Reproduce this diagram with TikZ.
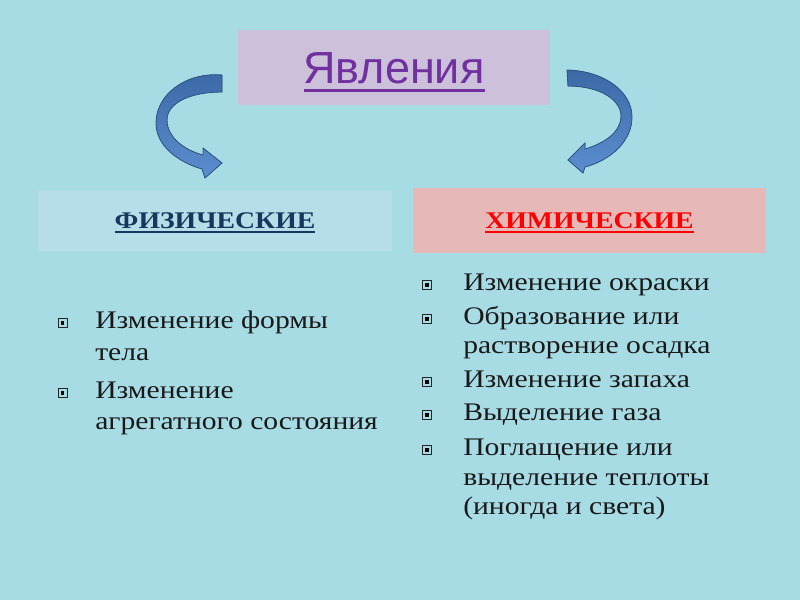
\documentclass[tikz,border=0pt]{standalone}
\usepackage{fontspec}
\usetikzlibrary{positioning}
\newfontfamily\titlefont{Liberation Sans}
\newfontfamily\headfont{Liberation Serif}[FakeStretch=1.16]
\newfontfamily\bodyfont{Liberation Serif}[FakeStretch=1.17]
\definecolor{bgwater}{HTML}{A7DCE5}
\definecolor{titlefill}{HTML}{CCC0DA}
\definecolor{titletext}{HTML}{7030A0}
\definecolor{physfill}{HTML}{B7DEE8}
\definecolor{phystext}{HTML}{17375E}
\definecolor{chemfill}{HTML}{E6B9B8}
\definecolor{chemtext}{HTML}{FF0000}
\definecolor{arrowtop}{HTML}{3C69A6}
\definecolor{arrowbot}{HTML}{5B8ECF}
\definecolor{arrowline}{HTML}{2F5585}
% thick underline: depth, thickness, text
\newcommand{\ulthick}[3]{\setbox0\hbox{#3}\rlap{\rule[-#1]{\wd0}{#2}}\box0}

\begin{document}
\begin{tikzpicture}[x=0.025cm, y=-0.025cm,
  box/.style={rectangle, fill=#1, inner sep=0pt},
  item/.style={anchor=base west, inner sep=0pt, text=black!90,
    font=\bodyfont\fontsize{18}{20}\selectfont},
  bul/.style={rectangle, draw=black!85, line width=0.5pt, minimum size=6.5pt, inner sep=0pt,
    path picture={\fill[black] ([shift={(-1.4pt,-1.4pt)}]path picture bounding box.center)
      rectangle ([shift={(1.4pt,1.4pt)}]path picture bounding box.center);}},
  arr/.style={top color=arrowtop, bottom color=arrowbot, draw=arrowline, line width=0.6pt}
]
  \fill[bgwater] (0,0) rectangle (800,600);
  \useasboundingbox (0,0) rectangle (800,600);

  \node[box=titlefill, minimum width=7.8cm, minimum height=1.85cm, text=titletext,
    font=\titlefont\fontsize{32}{36}\selectfont, text height=22.9pt, text depth=0pt]
    (title) at (394,67.5) {\ulthick{6pt}{2.2pt}{Явления}};

  \node[box=physfill, minimum width=8.85cm, minimum height=1.5cm, text=phystext,
    font=\headfont\bfseries\fontsize{17}{20}\selectfont, text height=11.3pt, text depth=0pt]
    (phys) at (215,220.5) {\ulthick{3.3pt}{1.5pt}{ФИЗИЧЕСКИЕ}};
  \node[box=chemfill, minimum width=8.83cm, minimum height=1.6cm, text=chemtext,
    font=\headfont\bfseries\fontsize{17}{20}\selectfont, text height=11.3pt, text depth=0pt]
    (chem) at (589.5,220.5) {\ulthick{3.3pt}{1.5pt}{ХИМИЧЕСКИЕ}};

  % curved arrows
  \filldraw[arr] (222,75) .. controls (185,72) and (156,95) .. (156,123)
    .. controls (156,146) and (178,162) .. (202,169) -- (205,178) -- (222,163) -- (203,148)
    -- (203,155) .. controls (184,150) and (167,137) .. (167,120)
    .. controls (167,103) and (190,92) .. (222,92) -- cycle;
  \filldraw[arr] (567,70) .. controls (605,71) and (632,92) .. (632,117)
    .. controls (632,141) and (611,160) .. (585,167) -- (583,173) -- (568,160) -- (585,143)
    -- (585,149) .. controls (605,143) and (621,132) .. (621,116)
    .. controls (621,100) and (600,86) .. (568,86) -- cycle;

  % physical
  \foreach \y/\t [count=\i] in {328/Изменение формы, 360/тела, 398/Изменение,
      429/агрегатного состояния}
    \node[item] (f\i) at (95,\y) {\t};
  \foreach \y [count=\i] in {323,393}
    \node[bul] (fb\i) at (62.5,\y) {};

  % chemical
  \foreach \y/\t [count=\i] in {290/Изменение окраски, 324/Образование или,
      353/растворение осадка, 387/Изменение запаха, 420/Выделение газа,
      455/Поглащение или, 485/выделение теплоты, 514/(иногда и света)}
    \node[item] (c\i) at (463,\y) {\t};
  \foreach \y [count=\i] in {285,319,382,415,450}
    \node[bul] (cb\i) at (427,\y) {};
\end{tikzpicture}
\end{document}
